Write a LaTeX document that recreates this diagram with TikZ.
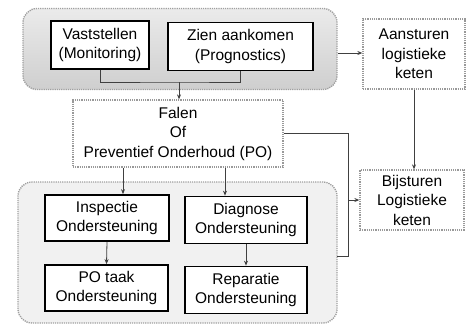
\documentclass[tikz,border=0pt]{standalone}
\usepackage{fontspec}
\setmainfont{Liberation Sans}
\usetikzlibrary{arrows.meta}
\begin{document}
\begin{tikzpicture}[x=1pt,y=-1pt,
  font=\fontsize{15.5}{19.5}\selectfont,
  solidbox/.style={draw=black,line width=1.7pt,fill=white,align=center,inner sep=0pt},
  dotbox/.style={draw=gray!80,dash pattern=on 1.2pt off 1pt,line width=1.3pt,fill=white,align=center,inner sep=0pt},
  grp/.style={draw=gray!75,dash pattern=on 1.2pt off 1pt,line width=1.4pt,rounded corners=14pt,inner sep=0pt},
  conn/.style={draw=black!75,line width=0.8pt},
  arr/.style={conn,-{Stealth[length=5pt,width=4pt]}}]
\useasboundingbox (0,0) rectangle (470,330);
% groups
\node[grp,top color=gray!16,bottom color=gray!38,minimum width=314pt,minimum height=81pt] (topgrp) at (180,49) {};
\node[grp,fill=gray!11,minimum width=319pt,minimum height=141pt] (botgrp) at (177.5,252.5) {};
% top boxes
\node[solidbox,minimum width=98pt,minimum height=48pt] (vast) at (100,45) {Vaststellen\\(Monitoring)};
\node[solidbox,minimum width=145pt,minimum height=48pt] (zien) at (240.5,46.5) {Zien aankomen\\(Prognostics)};
% right boxes
\node[dotbox,minimum width=102pt,minimum height=70pt] (aans) at (414,54) {Aansturen\\logistieke\\keten};
\node[dotbox,minimum width=104pt,minimum height=60pt] (bijs) at (412,200) {Bijsturen\\Logistieke\\keten};
% falen
\node[dotbox,minimum width=210pt,minimum height=67pt] (falen) at (178,133.5) {Falen\\Of\\Preventief Onderhoud (PO)};
% bottom boxes
\node[solidbox,minimum width=124pt,minimum height=46pt] (insp) at (107,218) {Inspectie\\Ondersteuning};
\node[solidbox,minimum width=122pt,minimum height=47pt] (diag) at (246,220) {Diagnose\\Ondersteuning};
\node[solidbox,minimum width=123pt,minimum height=46pt] (pota) at (106.5,288) {PO taak\\Ondersteuning};
\node[solidbox,minimum width=122pt,minimum height=47pt] (repa) at (246,290) {Reparatie\\Ondersteuning};
% coordinates
\coordinate (j1) at (179,82);
\coordinate (k) at (348,200);
\coordinate (gb) at (337,256);
% connectors
\draw[conn] (vast.south) |- (j1) -| (zien.south);
\draw[arr] (j1) -- (j1 |- falen.north);
\draw[arr] (topgrp.east |- 0,53) -- (aans.west |- 0,53);
\draw[arr] (aans.south) -- (aans.south |- bijs.north);
\draw[conn] (falen.east) -| (k);
\draw[conn] (gb) -| (k);
\draw[arr] (k) -- (bijs.west);
\draw[arr] (falen.south -| insp.north) ++(16,0) coordinate (f1) -- (f1 |- insp.north);
\draw[arr] (225,0 |- falen.south) coordinate (f2) -- (f2 |- diag.north);
\draw[arr] (insp.south) -- (pota.north);
\draw[arr] (diag.south) -- (repa.north);
\end{tikzpicture}
\end{document}
